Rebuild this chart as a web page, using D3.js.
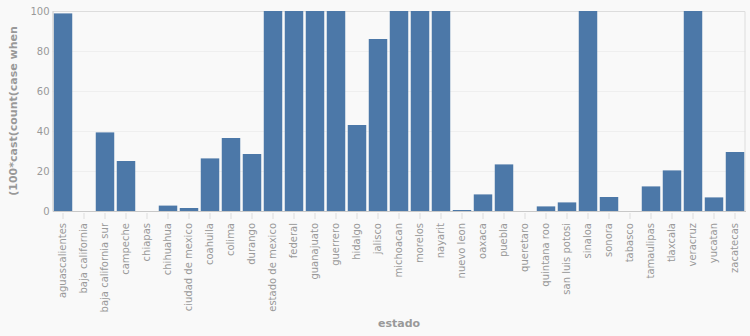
<!DOCTYPE html>
<html><head><meta charset="utf-8">
<script src="https://cdn.jsdelivr.net/npm/d3@7"></script>
<style>body{margin:0;background:#f9f9f9;}svg{display:block;font-family:"DejaVu Sans",sans-serif;}</style>
</head><body>
<svg id="c" width="750" height="336"></svg>
<script>
const categories = ["aguascalientes","baja california","baja california sur","campeche","chiapas","chihuahua","ciudad de mexico","coahuila","colima","durango","estado de mexico","federal","guanajuato","guerrero","hidalgo","jalisco","michoacan","morelos","nayarit","nuevo leon","oaxaca","puebla","queretaro","quintana roo","san luis potosi","sinaloa","sonora","tabasco","tamaulipas","tlaxcala","veracruz","yucatan","zacatecas"];
const values = [98.8,0,39.3,25,0,2.7,1.5,26.3,36.5,28.5,100,100,100,100,43,86,100,100,100,0.5,8.3,23.3,0,2.3,4.3,100,7,0,12.3,20.3,100,6.8,29.5];
const yTicks = [0,20,40,60,80,100];
const xTitle = "estado";
const yTitle = "(100*cast(count(case when";

const svg = d3.select("#c");
const L = 52.5, R = 745.5, T = 11, B = 211;
svg.append("rect").attr("width",750).attr("height",336).attr("fill","#f9f9f9");

const x = d3.scaleBand().domain(categories).range([L,R]).paddingInner(0.12).paddingOuter(0.06);
const y = d3.scaleLinear().domain([0,100]).range([B,T]);

// grid
svg.append("g").selectAll("line").data(yTicks.filter(d=>d>0 && d<100)).join("line")
  .attr("x1",L).attr("x2",R).attr("y1",d=>y(d)+0.5).attr("y2",d=>y(d)+0.5)
  .attr("stroke","#efefef").attr("stroke-width",1);

// border top/right
svg.append("path").attr("d",`M${L},${T+0.5}H${R-0.5}V${B}`).attr("fill","none").attr("stroke","#dddddd");

// bars
svg.append("g").selectAll("rect").data(categories.map((c,i)=>({c,v:values[i]}))).join("rect")
  .attr("x",d=>x(d.c)).attr("width",x.bandwidth())
  .attr("y",d=>y(d.v)).attr("height",d=>B-y(d.v))
  .attr("fill","#4c78a8");

// x axis
const xa = svg.append("g").attr("transform",`translate(0,${B})`).call(d3.axisBottom(x).tickSize(8).tickSizeOuter(0));
xa.select(".domain").attr("stroke","#c8c8c8");
xa.selectAll(".tick line").attr("stroke","#dddddd").attr("y1",2);
xa.selectAll(".tick text").attr("fill","#999").attr("font-size",10).attr("font-family","DejaVu Sans")
  .attr("transform","rotate(-90)").attr("text-anchor","end").attr("dy","0.32em").attr("x",-12).attr("y",0);

// y axis
const ya = svg.append("g").attr("transform",`translate(${L},0)`).call(d3.axisLeft(y).tickValues(yTicks).tickSize(0).tickPadding(3));
ya.select(".domain").attr("stroke","#c8c8c8");
ya.selectAll(".tick text").attr("fill","#999").attr("font-size",10).attr("font-family","DejaVu Sans");

svg.append("text").attr("x",(L+R)/2).attr("y",327).attr("text-anchor","middle")
  .attr("font-weight","bold").attr("font-size",11).attr("fill","#999").text(xTitle);
svg.append("text").attr("transform",`translate(17,${(T+B)/2}) rotate(-90)`).attr("text-anchor","middle")
  .attr("font-weight","bold").attr("font-size",11).attr("fill","#999").text(yTitle);
</script>
</body></html>
